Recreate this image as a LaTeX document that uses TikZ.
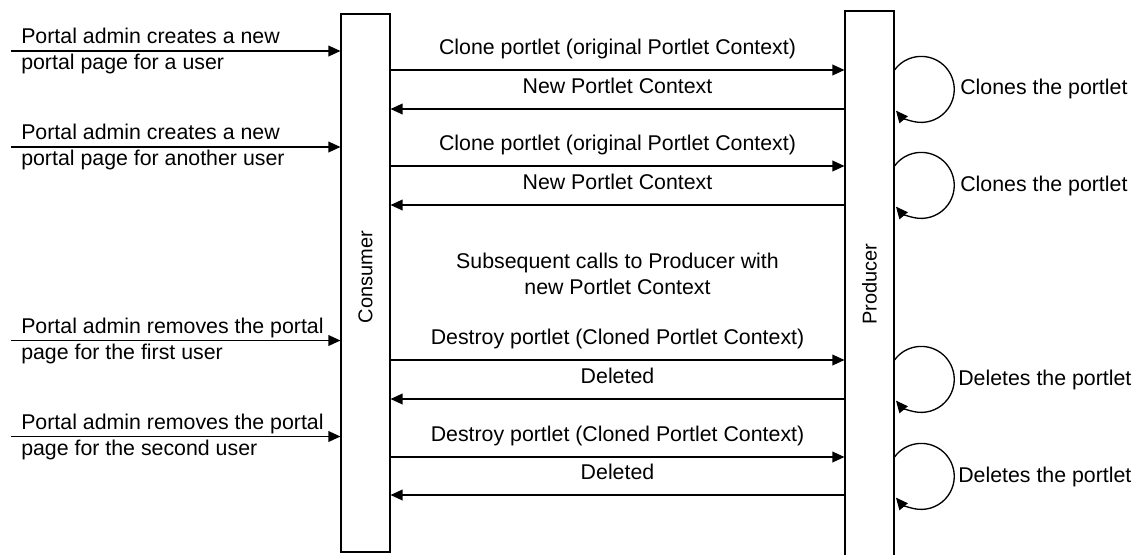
\documentclass[tikz,border=0pt]{standalone}
\usepackage{fontspec}
\setmainfont{Liberation Sans}
\usepackage{tikz}
\usepackage{xcolor}
\usetikzlibrary{positioning,arrows.meta}

\begin{document}
\begin{tikzpicture}[x=0.75pt,y=-0.75pt,node distance=0.5cm,
                    font=\fontsize{16}{19.5}\selectfont]
\tikzset{>={Triangle[length=9pt,width=8pt]}}

\tikzstyle{lifeline} = [rectangle, draw, line width=0.8pt, inner sep=0pt,
                        minimum width=36.75pt]
\tikzstyle{msg}      = [->, line width=1pt]
\tikzstyle{msglabel} = [midway, anchor=base, yshift=11.5pt, inner sep=0pt]
\tikzstyle{note}     = [align=left, anchor=west, inner sep=0pt]

\useasboundingbox (0,0) rectangle (1134,554);

\node[lifeline,minimum height=403.5pt] (CS) at (365.5,283) {};
\node[lifeline,minimum height=408.75pt] (PR) at (869.5,283.5) {};
\node[rotate=90,font=\fontsize{15}{18}\selectfont] (CSL) at (365.5,277) {Consumer};
\node[rotate=90,font=\fontsize{15}{18}\selectfont] (PRL) at (869.5,284) {Producer};

% requests from the portal admin
\coordinate (IN1) at (11,51);
\coordinate (IN2) at (11,147);
\coordinate (IN3) at (11,340.5);
\coordinate (IN4) at (11,436.5);
\draw[msg] (IN1) -- (CS.west |- IN1);
\draw[msg] (IN2) -- (CS.west |- IN2);
\draw[msg] (IN3) -- (CS.west |- IN3);
\draw[msg] (IN4) -- (CS.west |- IN4);
\node[note] (A1) at (21,51)    {Portal admin creates a new\\portal page for a user};
\node[note] (A2) at (21,147)   {Portal admin creates a new\\portal page for another user};
\node[note] (A3) at (21,340.5) {Portal admin removes the portal\\page for the first user};
\node[note] (A4) at (21,436.5) {Portal admin removes the portal\\page for the second user};

% clone
\draw[msg] (CS.east |- 0,70)  -- node[msglabel] {Clone portlet (original Portlet Context)} (PR.west |- 0,70);
\draw[msg] (PR.west |- 0,109) -- node[msglabel] {New Portlet Context} (CS.east |- 0,109);
\draw[msg] (CS.east |- 0,166) -- node[msglabel] {Clone portlet (original Portlet Context)} (PR.west |- 0,166);
\draw[msg] (PR.west |- 0,205) -- node[msglabel] {New Portlet Context} (CS.east |- 0,205);

\node[align=center,inner sep=0pt] (SUB) at (617.5,274)
  {Subsequent calls to Producer with\\new Portlet Context};

% destroy
\draw[msg] (CS.east |- 0,360) -- node[msglabel] {Destroy portlet (Cloned Portlet Context)} (PR.west |- 0,360);
\draw[msg] (PR.west |- 0,399) -- node[msglabel] {Deleted} (CS.east |- 0,399);
\draw[msg] (CS.east |- 0,457) -- node[msglabel] {Destroy portlet (Cloned Portlet Context)} (PR.west |- 0,457);
\draw[msg] (PR.west |- 0,495) -- node[msglabel] {Deleted} (CS.east |- 0,495);

% producer loops
\draw[msg] (PR.east |- 0,70)  arc[start angle=-144, end angle=140, radius=33];
\draw[msg] (PR.east |- 0,166) arc[start angle=-144, end angle=140, radius=33];
\draw[msg] (PR.east |- 0,360) arc[start angle=-144, end angle=140, radius=33];
\draw[msg] (PR.east |- 0,457) arc[start angle=-144, end angle=140, radius=33];
\node[note] (L1) at (960,89)    {Clones the portlet};
\node[note] (L2) at (960,186)   {Clones the portlet};
\node[note] (L3) at (958,379.5) {Deletes the portlet};
\node[note] (L4) at (958,476.5) {Deletes the portlet};

\end{tikzpicture}
\end{document}
